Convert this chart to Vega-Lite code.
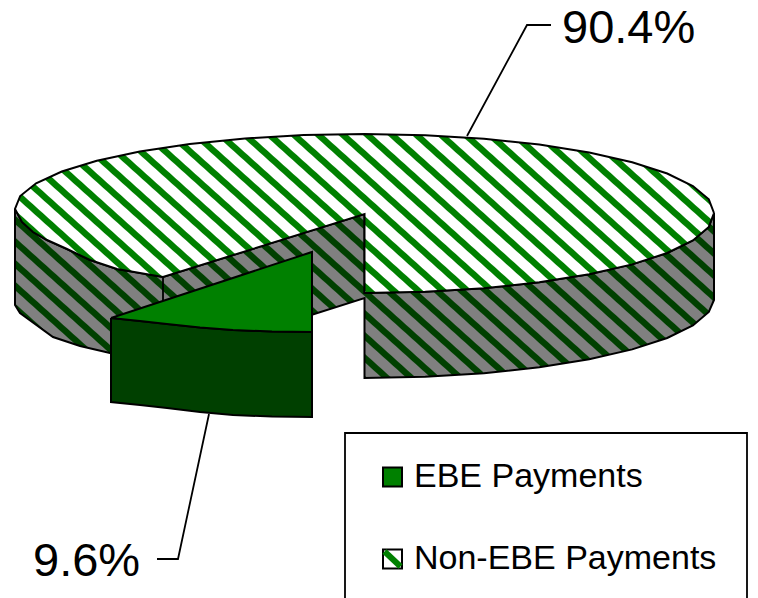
{"$schema":"https://vega.github.io/schema/vega-lite/v6.json","width":758,"height":598,"padding":0,"autosize":"none","background":"#ffffff","config":{"view":{"stroke":null},"font":"Liberation Sans"},
"datasets":{"slices":[{"category":"EBE Payments","share":9.6,"label":"9.6%","lx":33,"ly":576,"sx":392.5,"sy":477},{"category":"Non-EBE Payments","share":90.4,"label":"90.4%","lx":562,"ly":43,"sx":392.5,"sy":559}],
"frame":[{"x":345,"x2":747,"y":433,"y2":612}],
"shapes":[
{"s":"side","i":0,"x":15,"y":209},{"s":"side","i":1,"x":15,"y":305},{"s":"side","i":2,"x":20,"y":313},{"s":"side","i":3,"x":53,"y":337},{"s":"side","i":4,"x":80,"y":346},{"s":"side","i":5,"x":110,"y":353},{"s":"side","i":6,"x":163,"y":362},{"s":"side","i":7,"x":364.5,"y":298},{"s":"side","i":8,"x":364.5,"y":378},{"s":"side","i":9,"x":425.2,"y":376.8},{"s":"side","i":10,"x":484,"y":373.2},{"s":"side","i":11,"x":539.3,"y":367.3},{"s":"side","i":12,"x":589.2,"y":359.3},{"s":"side","i":13,"x":632.2,"y":349.4},{"s":"side","i":14,"x":667.2,"y":338},{"s":"side","i":15,"x":692.9,"y":325.4},{"s":"side","i":16,"x":708.8,"y":312},{"s":"side","i":17,"x":714,"y":300},{"s":"side","i":18,"x":714,"y":213},{"s":"side","i":19,"x":708.8,"y":226.9},{"s":"side","i":20,"x":692.9,"y":240.4},{"s":"side","i":21,"x":667.2,"y":253},{"s":"side","i":22,"x":632.2,"y":264.4},{"s":"side","i":23,"x":589.2,"y":274.3},{"s":"side","i":24,"x":539.3,"y":282.3},{"s":"side","i":25,"x":484,"y":288.2},{"s":"side","i":26,"x":425.2,"y":291.8},{"s":"side","i":27,"x":364.5,"y":293},{"s":"side","i":28,"x":364.5,"y":214},{"s":"side","i":29,"x":163,"y":277},{"s":"side","i":30,"x":117,"y":269},{"s":"side","i":31,"x":90,"y":260},{"s":"side","i":32,"x":67,"y":249},{"s":"side","i":33,"x":47,"y":240},{"s":"side","i":34,"x":33,"y":232},{"s":"side","i":35,"x":22,"y":222},{"s":"side","i":36,"x":15,"y":209},
{"s":"top","i":0,"x":714,"y":213},{"s":"top","i":1,"x":708.8,"y":226.9},{"s":"top","i":2,"x":692.9,"y":240.4},{"s":"top","i":3,"x":667.2,"y":253},{"s":"top","i":4,"x":632.2,"y":264.4},{"s":"top","i":5,"x":589.2,"y":274.3},{"s":"top","i":6,"x":539.3,"y":282.3},{"s":"top","i":7,"x":484,"y":288.2},{"s":"top","i":8,"x":425.2,"y":291.8},{"s":"top","i":9,"x":364.5,"y":293},{"s":"top","i":10,"x":364.5,"y":214},{"s":"top","i":11,"x":163,"y":277},{"s":"top","i":12,"x":117,"y":269},{"s":"top","i":13,"x":90,"y":260},{"s":"top","i":14,"x":67,"y":249},{"s":"top","i":15,"x":47,"y":240},{"s":"top","i":16,"x":33,"y":232},{"s":"top","i":17,"x":22,"y":222},{"s":"top","i":18,"x":15,"y":209},{"s":"top","i":19,"x":20.2,"y":196},{"s":"top","i":20,"x":36.1,"y":183.3},{"s":"top","i":21,"x":61.8,"y":171.5},{"s":"top","i":22,"x":96.8,"y":160.8},{"s":"top","i":23,"x":139.8,"y":151.5},{"s":"top","i":24,"x":189.75,"y":144},{"s":"top","i":25,"x":245,"y":138.5},{"s":"top","i":26,"x":303.8,"y":135.1},{"s":"top","i":27,"x":364.5,"y":134},{"s":"top","i":28,"x":425.2,"y":135.2},{"s":"top","i":29,"x":484,"y":138.7},{"s":"top","i":30,"x":539.3,"y":144.6},{"s":"top","i":31,"x":589.2,"y":152.5},{"s":"top","i":32,"x":632.2,"y":162.2},{"s":"top","i":33,"x":667.2,"y":173.5},{"s":"top","i":34,"x":692.9,"y":186},{"s":"top","i":35,"x":708.8,"y":199.3},{"s":"top","i":36,"x":714,"y":213},
{"s":"front","i":0,"x":111,"y":318},{"s":"front","i":1,"x":140,"y":321},{"s":"front","i":2,"x":167,"y":324},{"s":"front","i":3,"x":200,"y":327.5},{"s":"front","i":4,"x":233,"y":330},{"s":"front","i":5,"x":272,"y":331.5},{"s":"front","i":6,"x":312,"y":332},{"s":"front","i":7,"x":312,"y":417},{"s":"front","i":8,"x":272,"y":416.5},{"s":"front","i":9,"x":233,"y":415},{"s":"front","i":10,"x":200,"y":412},{"s":"front","i":11,"x":167,"y":408},{"s":"front","i":12,"x":140,"y":405},{"s":"front","i":13,"x":111,"y":402},{"s":"front","i":14,"x":111,"y":318},
{"s":"wedge","i":0,"x":111,"y":318},{"s":"wedge","i":1,"x":312,"y":252},{"s":"wedge","i":2,"x":312,"y":332},{"s":"wedge","i":3,"x":272,"y":331.5},{"s":"wedge","i":4,"x":233,"y":330},{"s":"wedge","i":5,"x":200,"y":327.5},{"s":"wedge","i":6,"x":167,"y":324},{"s":"wedge","i":7,"x":140,"y":321},{"s":"wedge","i":8,"x":111,"y":318},
{"s":"divider","i":0,"x":163,"y":277},{"s":"divider","i":1,"x":163,"y":305},
{"s":"leaderA","i":0,"x":467,"y":136},{"s":"leaderA","i":1,"x":527,"y":25},{"s":"leaderA","i":2,"x":551,"y":25},
{"s":"leaderB","i":0,"x":209,"y":414},{"s":"leaderB","i":1,"x":178,"y":559},{"s":"leaderB","i":2,"x":157,"y":559},
{"s":"stripe","i":0,"x":384.5,"y":551.5},{"s":"stripe","i":1,"x":400.5,"y":566.5}
]},
"encoding":{"x":{"field":"x","type":"quantitative","scale":{"domain":[0,758],"nice":false,"zero":false},"axis":null},"y":{"field":"y","type":"quantitative","scale":{"domain":[598,0],"nice":false,"zero":false},"axis":null},"order":{"field":"i","type":"quantitative"}},
"layer":[
{"data":{"name":"shapes"},"transform":[{"filter":"datum.s==='side'"}],"mark":{"type":"line","stroke":"#000000","strokeWidth":2,"strokeJoin":"miter","fill":{"gradient":"linear","x1":0,"y1":1,"x2":1.1833,"y2":0.6821,"stops":[
{"offset":0,"color":"#808080"},
{"offset":0.0817,"color":"#808080"},{"offset":0.0834,"color":"#004000"},{"offset":0.0924,"color":"#004000"},{"offset":0.0941,"color":"#808080"},
{"offset":0.1093,"color":"#808080"},{"offset":0.111,"color":"#004000"},{"offset":0.12,"color":"#004000"},{"offset":0.1217,"color":"#808080"},
{"offset":0.1369,"color":"#808080"},{"offset":0.1386,"color":"#004000"},{"offset":0.1476,"color":"#004000"},{"offset":0.1493,"color":"#808080"},
{"offset":0.1646,"color":"#808080"},{"offset":0.1663,"color":"#004000"},{"offset":0.1753,"color":"#004000"},{"offset":0.177,"color":"#808080"},
{"offset":0.1922,"color":"#808080"},{"offset":0.1939,"color":"#004000"},{"offset":0.2029,"color":"#004000"},{"offset":0.2046,"color":"#808080"},
{"offset":0.2198,"color":"#808080"},{"offset":0.2215,"color":"#004000"},{"offset":0.2305,"color":"#004000"},{"offset":0.2322,"color":"#808080"},
{"offset":0.2474,"color":"#808080"},{"offset":0.2491,"color":"#004000"},{"offset":0.2581,"color":"#004000"},{"offset":0.2598,"color":"#808080"},
{"offset":0.2751,"color":"#808080"},{"offset":0.2768,"color":"#004000"},{"offset":0.2858,"color":"#004000"},{"offset":0.2875,"color":"#808080"},
{"offset":0.3027,"color":"#808080"},{"offset":0.3044,"color":"#004000"},{"offset":0.3134,"color":"#004000"},{"offset":0.3151,"color":"#808080"},
{"offset":0.3303,"color":"#808080"},{"offset":0.332,"color":"#004000"},{"offset":0.341,"color":"#004000"},{"offset":0.3427,"color":"#808080"},
{"offset":0.358,"color":"#808080"},{"offset":0.3597,"color":"#004000"},{"offset":0.3687,"color":"#004000"},{"offset":0.3704,"color":"#808080"},
{"offset":0.3856,"color":"#808080"},{"offset":0.3873,"color":"#004000"},{"offset":0.3963,"color":"#004000"},{"offset":0.398,"color":"#808080"},
{"offset":0.4132,"color":"#808080"},{"offset":0.4149,"color":"#004000"},{"offset":0.4239,"color":"#004000"},{"offset":0.4256,"color":"#808080"},
{"offset":0.4408,"color":"#808080"},{"offset":0.4425,"color":"#004000"},{"offset":0.4515,"color":"#004000"},{"offset":0.4532,"color":"#808080"},
{"offset":0.4685,"color":"#808080"},{"offset":0.4702,"color":"#004000"},{"offset":0.4792,"color":"#004000"},{"offset":0.4809,"color":"#808080"},
{"offset":0.4961,"color":"#808080"},{"offset":0.4978,"color":"#004000"},{"offset":0.5068,"color":"#004000"},{"offset":0.5085,"color":"#808080"},
{"offset":0.5237,"color":"#808080"},{"offset":0.5254,"color":"#004000"},{"offset":0.5344,"color":"#004000"},{"offset":0.5361,"color":"#808080"},
{"offset":0.5513,"color":"#808080"},{"offset":0.553,"color":"#004000"},{"offset":0.562,"color":"#004000"},{"offset":0.5637,"color":"#808080"},
{"offset":0.579,"color":"#808080"},{"offset":0.5807,"color":"#004000"},{"offset":0.5897,"color":"#004000"},{"offset":0.5914,"color":"#808080"},
{"offset":0.6066,"color":"#808080"},{"offset":0.6083,"color":"#004000"},{"offset":0.6173,"color":"#004000"},{"offset":0.619,"color":"#808080"},
{"offset":0.6342,"color":"#808080"},{"offset":0.6359,"color":"#004000"},{"offset":0.6449,"color":"#004000"},{"offset":0.6466,"color":"#808080"},
{"offset":0.6618,"color":"#808080"},{"offset":0.6635,"color":"#004000"},{"offset":0.6725,"color":"#004000"},{"offset":0.6742,"color":"#808080"},
{"offset":0.6895,"color":"#808080"},{"offset":0.6912,"color":"#004000"},{"offset":0.7002,"color":"#004000"},{"offset":0.7019,"color":"#808080"},
{"offset":0.7171,"color":"#808080"},{"offset":0.7188,"color":"#004000"},{"offset":0.7278,"color":"#004000"},{"offset":0.7295,"color":"#808080"},
{"offset":0.7447,"color":"#808080"},{"offset":0.7464,"color":"#004000"},{"offset":0.7554,"color":"#004000"},{"offset":0.7571,"color":"#808080"},
{"offset":0.7724,"color":"#808080"},{"offset":0.7741,"color":"#004000"},{"offset":0.7831,"color":"#004000"},{"offset":0.7848,"color":"#808080"},
{"offset":0.8,"color":"#808080"},{"offset":0.8017,"color":"#004000"},{"offset":0.8107,"color":"#004000"},{"offset":0.8124,"color":"#808080"},
{"offset":0.8276,"color":"#808080"},{"offset":0.8293,"color":"#004000"},{"offset":0.8383,"color":"#004000"},{"offset":0.84,"color":"#808080"},
{"offset":0.8552,"color":"#808080"},{"offset":0.8569,"color":"#004000"},{"offset":0.8659,"color":"#004000"},{"offset":0.8676,"color":"#808080"},
{"offset":0.8829,"color":"#808080"},{"offset":0.8846,"color":"#004000"},{"offset":0.8936,"color":"#004000"},{"offset":0.8953,"color":"#808080"},
{"offset":0.9105,"color":"#808080"},{"offset":0.9122,"color":"#004000"},{"offset":0.9212,"color":"#004000"},{"offset":0.9229,"color":"#808080"},
{"offset":0.9381,"color":"#808080"},{"offset":0.9398,"color":"#004000"},{"offset":0.9488,"color":"#004000"},{"offset":0.9505,"color":"#808080"},
{"offset":0.9657,"color":"#808080"},{"offset":0.9674,"color":"#004000"},{"offset":0.9764,"color":"#004000"},{"offset":0.9781,"color":"#808080"},
{"offset":1,"color":"#808080"}
]}}},
{"data":{"name":"shapes"},"transform":[{"filter":"datum.s==='divider'||datum.s==='leaderA'||datum.s==='leaderB'"}],"mark":{"type":"line","stroke":"#000000","strokeWidth":1.8},"encoding":{"detail":{"field":"s"}}},
{"data":{"name":"shapes"},"transform":[{"filter":"datum.s==='top'"}],"mark":{"type":"line","stroke":"#000000","strokeWidth":2,"strokeJoin":"miter","fill":{"gradient":"linear","x1":0,"y1":1,"x2":1.1775,"y2":0.7023,"stops":[
{"offset":0,"color":"#ffffff"},
{"offset":0.0934,"color":"#ffffff"},{"offset":0.0951,"color":"#008000"},{"offset":0.1043,"color":"#008000"},{"offset":0.106,"color":"#ffffff"},
{"offset":0.1214,"color":"#ffffff"},{"offset":0.1231,"color":"#008000"},{"offset":0.1323,"color":"#008000"},{"offset":0.134,"color":"#ffffff"},
{"offset":0.1494,"color":"#ffffff"},{"offset":0.1511,"color":"#008000"},{"offset":0.1603,"color":"#008000"},{"offset":0.162,"color":"#ffffff"},
{"offset":0.1773,"color":"#ffffff"},{"offset":0.179,"color":"#008000"},{"offset":0.1882,"color":"#008000"},{"offset":0.1899,"color":"#ffffff"},
{"offset":0.2053,"color":"#ffffff"},{"offset":0.207,"color":"#008000"},{"offset":0.2162,"color":"#008000"},{"offset":0.2179,"color":"#ffffff"},
{"offset":0.2333,"color":"#ffffff"},{"offset":0.235,"color":"#008000"},{"offset":0.2442,"color":"#008000"},{"offset":0.2459,"color":"#ffffff"},
{"offset":0.2613,"color":"#ffffff"},{"offset":0.263,"color":"#008000"},{"offset":0.2722,"color":"#008000"},{"offset":0.2739,"color":"#ffffff"},
{"offset":0.2892,"color":"#ffffff"},{"offset":0.2909,"color":"#008000"},{"offset":0.3001,"color":"#008000"},{"offset":0.3018,"color":"#ffffff"},
{"offset":0.3172,"color":"#ffffff"},{"offset":0.3189,"color":"#008000"},{"offset":0.3281,"color":"#008000"},{"offset":0.3298,"color":"#ffffff"},
{"offset":0.3452,"color":"#ffffff"},{"offset":0.3469,"color":"#008000"},{"offset":0.3561,"color":"#008000"},{"offset":0.3578,"color":"#ffffff"},
{"offset":0.3732,"color":"#ffffff"},{"offset":0.3749,"color":"#008000"},{"offset":0.3841,"color":"#008000"},{"offset":0.3858,"color":"#ffffff"},
{"offset":0.4011,"color":"#ffffff"},{"offset":0.4028,"color":"#008000"},{"offset":0.412,"color":"#008000"},{"offset":0.4137,"color":"#ffffff"},
{"offset":0.4291,"color":"#ffffff"},{"offset":0.4308,"color":"#008000"},{"offset":0.44,"color":"#008000"},{"offset":0.4417,"color":"#ffffff"},
{"offset":0.4571,"color":"#ffffff"},{"offset":0.4588,"color":"#008000"},{"offset":0.468,"color":"#008000"},{"offset":0.4697,"color":"#ffffff"},
{"offset":0.4851,"color":"#ffffff"},{"offset":0.4868,"color":"#008000"},{"offset":0.496,"color":"#008000"},{"offset":0.4977,"color":"#ffffff"},
{"offset":0.5131,"color":"#ffffff"},{"offset":0.5148,"color":"#008000"},{"offset":0.524,"color":"#008000"},{"offset":0.5257,"color":"#ffffff"},
{"offset":0.541,"color":"#ffffff"},{"offset":0.5427,"color":"#008000"},{"offset":0.5519,"color":"#008000"},{"offset":0.5536,"color":"#ffffff"},
{"offset":0.569,"color":"#ffffff"},{"offset":0.5707,"color":"#008000"},{"offset":0.5799,"color":"#008000"},{"offset":0.5816,"color":"#ffffff"},
{"offset":0.597,"color":"#ffffff"},{"offset":0.5987,"color":"#008000"},{"offset":0.6079,"color":"#008000"},{"offset":0.6096,"color":"#ffffff"},
{"offset":0.625,"color":"#ffffff"},{"offset":0.6267,"color":"#008000"},{"offset":0.6359,"color":"#008000"},{"offset":0.6376,"color":"#ffffff"},
{"offset":0.6529,"color":"#ffffff"},{"offset":0.6546,"color":"#008000"},{"offset":0.6638,"color":"#008000"},{"offset":0.6655,"color":"#ffffff"},
{"offset":0.6809,"color":"#ffffff"},{"offset":0.6826,"color":"#008000"},{"offset":0.6918,"color":"#008000"},{"offset":0.6935,"color":"#ffffff"},
{"offset":0.7089,"color":"#ffffff"},{"offset":0.7106,"color":"#008000"},{"offset":0.7198,"color":"#008000"},{"offset":0.7215,"color":"#ffffff"},
{"offset":0.7369,"color":"#ffffff"},{"offset":0.7386,"color":"#008000"},{"offset":0.7478,"color":"#008000"},{"offset":0.7495,"color":"#ffffff"},
{"offset":0.7648,"color":"#ffffff"},{"offset":0.7665,"color":"#008000"},{"offset":0.7757,"color":"#008000"},{"offset":0.7774,"color":"#ffffff"},
{"offset":0.7928,"color":"#ffffff"},{"offset":0.7945,"color":"#008000"},{"offset":0.8037,"color":"#008000"},{"offset":0.8054,"color":"#ffffff"},
{"offset":0.8208,"color":"#ffffff"},{"offset":0.8225,"color":"#008000"},{"offset":0.8317,"color":"#008000"},{"offset":0.8334,"color":"#ffffff"},
{"offset":0.8488,"color":"#ffffff"},{"offset":0.8505,"color":"#008000"},{"offset":0.8597,"color":"#008000"},{"offset":0.8614,"color":"#ffffff"},
{"offset":0.8768,"color":"#ffffff"},{"offset":0.8785,"color":"#008000"},{"offset":0.8877,"color":"#008000"},{"offset":0.8894,"color":"#ffffff"},
{"offset":0.9047,"color":"#ffffff"},{"offset":0.9064,"color":"#008000"},{"offset":0.9156,"color":"#008000"},{"offset":0.9173,"color":"#ffffff"},
{"offset":1,"color":"#ffffff"}
]}}},
{"data":{"name":"shapes"},"transform":[{"filter":"datum.s==='front'"}],"mark":{"type":"line","stroke":"#000000","strokeWidth":2,"strokeJoin":"miter","fill":"#004000"}},
{"data":{"name":"shapes"},"transform":[{"filter":"datum.s==='wedge'"}],"mark":{"type":"line","stroke":"#000000","strokeWidth":2,"strokeJoin":"miter","fill":"#008000"}},
{"data":{"name":"slices"},"mark":{"type":"text","align":"left","baseline":"alphabetic","fontSize":47,"font":"Liberation Sans","color":"#000000"},"encoding":{"x":{"field":"lx","type":"quantitative"},"y":{"field":"ly","type":"quantitative"},"order":null,"text":{"field":"label"}}},
{"data":{"name":"slices"},"mark":{"type":"point","filled":true,"size":0},"encoding":{"x":{"field":"lx","type":"quantitative"},"y":{"field":"ly","type":"quantitative"},"order":null,"fill":{"field":"category","type":"nominal","scale":{"domain":["EBE Payments","Non-EBE Payments"],"range":["transparent","transparent"]},"legend":{"title":null,"orient":"none","legendX":375,"legendY":460,"symbolType":"square","symbolSize":361,"labelFont":"Liberation Sans","labelFontSize":34,"labelColor":"#000000","labelOffset":5,"labelLimit":400,"rowPadding":48,"padding":0}}}},
{"data":{"name":"frame"},"mark":{"type":"rect","filled":false,"stroke":"#000000","strokeWidth":1.8},"encoding":{"x2":{"field":"x2"},"y2":{"field":"y2"},"order":null}},
{"data":{"name":"slices"},"transform":[{"filter":"datum.category==='EBE Payments'"}],"mark":{"type":"point","shape":"square","filled":true,"size":361,"opacity":1,"stroke":"#000000","strokeWidth":2,"fill":"#008000"},"encoding":{"x":{"field":"sx","type":"quantitative"},"y":{"field":"sy","type":"quantitative"},"order":null}},
{"data":{"name":"slices"},"transform":[{"filter":"datum.category==='Non-EBE Payments'"}],"mark":{"type":"point","shape":"square","filled":true,"size":361,"opacity":1,"stroke":"#000000","strokeWidth":2,"fill":"#ffffff"},"encoding":{"x":{"field":"sx","type":"quantitative"},"y":{"field":"sy","type":"quantitative"},"order":null}},
{"data":{"name":"shapes"},"transform":[{"filter":"datum.s==='stripe'"}],"mark":{"type":"line","stroke":"#008000","strokeWidth":6,"strokeCap":"butt"}}
]}
